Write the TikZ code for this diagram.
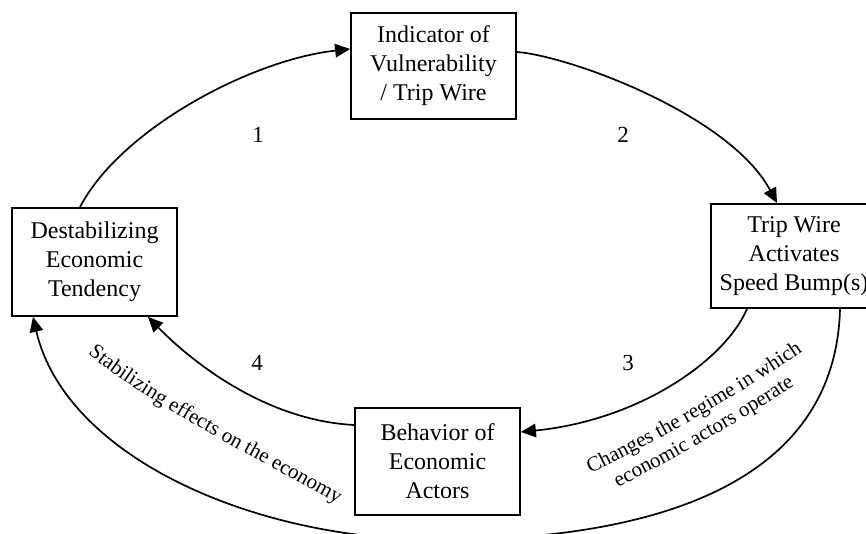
\documentclass[tikz,border=0pt]{standalone}
\usepackage{fontspec}
\setmainfont{Liberation Serif}
\usetikzlibrary{arrows.meta,decorations.text}
\begin{document}
\begin{tikzpicture}[x=1pt,y=-1pt,
  box/.style={draw,line width=1.8pt,minimum width=165pt,minimum height=106pt,inner sep=0pt,align=center,font=\fontsize{24}{29}\selectfont},
  flow/.style={line width=1.7pt,-{Triangle[length=15pt,width=13.5pt]}},
  num/.style={font=\fontsize{23}{27}\selectfont,inner sep=0pt}
]
\useasboundingbox (0,0) rectangle (866,534);

\node[box] (T) at (433.5,66) {Indicator of\\Vulnerability\\/ Trip Wire};
\node[box,minimum width=166pt,minimum height=104pt] (R) at (794,256) {Trip Wire\\Activates\\Speed Bump(s)};
\node[box,minimum height=108pt] (L) at (94.5,262) {Destabilizing\\Economic\\Tendency};
\node[box,minimum height=107pt] (B) at (437.5,461.5) {Behavior of\\Economic\\Actors};

\node[num] (n1) at (258,135) {1};
\node[num] (n2) at (623,135) {2};
\node[num] (n3) at (628,363) {3};
\node[num] (n4) at (257,363) {4};

\coordinate (low) at (440,540);

\draw[flow] ([xshift=-14.5pt]L.north) .. controls (120,130) and (250,60) .. ([yshift=17pt]T.west);
\draw[flow] ([yshift=14pt]T.east) .. controls (570,56) and (730,115) .. ([xshift=-17pt]R.north);
\draw[flow] ([xshift=-47pt]R.south) .. controls (725,360) and (640,420) .. ([yshift=29.5pt]B.east);
\draw[flow] ([yshift=36.5pt]B.west) .. controls (260,420) and (185,355) .. ([xshift=53.5pt]L.south);
\draw[flow] ([xshift=46pt]R.south) .. controls (835,500) and (620,540) .. (low)
   .. controls (250,540) and (65,455) .. ([xshift=-61.5pt]L.south);

\path[decorate,decoration={text along path,text align=center,
  text={|\fontsize{21}{25}\selectfont|Stabilizing effects on the economy}}]
  (88,354) .. controls (151,406) and (266,463) .. (337,504);
\path[decorate,decoration={text along path,text align=center,
  text={|\fontsize{21}{25}\selectfont|Changes the regime in which}}]
  (588,475) .. controls (653,444) and (746,391) .. (805,350);
\path[decorate,decoration={text along path,text align=center,
  text={|\fontsize{21}{25}\selectfont|economic actors operate}}]
  (598,497) .. controls (661,467) and (754,414) .. (813,373);
\end{tikzpicture}
\end{document}
